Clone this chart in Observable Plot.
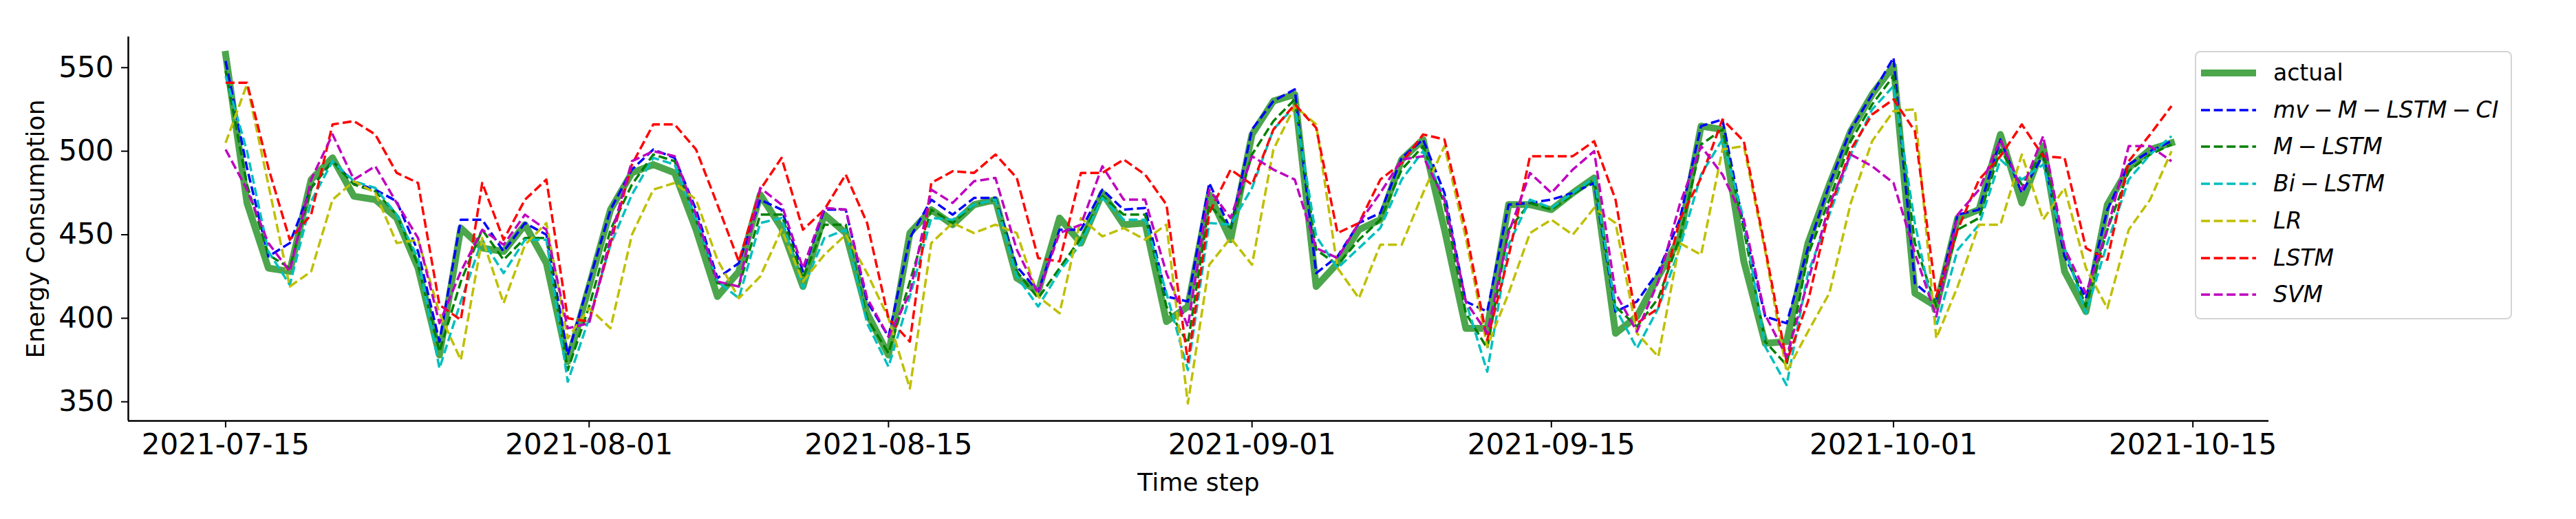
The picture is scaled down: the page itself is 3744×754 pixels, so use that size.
<!DOCTYPE html>
<html><head><meta charset="utf-8">
<script src="https://cdn.jsdelivr.net/npm/d3@7"></script>
<script src="https://cdn.jsdelivr.net/npm/@observablehq/plot@0.6"></script>
<style>
html,body{margin:0;padding:0;background:#fff;}
#wrap{position:relative;width:3744px;height:754px;font-family:"DejaVu Sans",sans-serif;overflow:hidden;}
#legend{position:absolute;left:3190px;top:74px;width:461px;height:390px;box-sizing:border-box;border:2px solid #d4d4d4;border-radius:8px;background:rgba(255,255,255,0.8);}
.row{position:absolute;left:0;width:100%;height:44px;}
.row svg{position:absolute;left:5px;top:0;}
.row span.t{position:absolute;left:112px;top:0;line-height:44px;font-size:33px;color:#000;white-space:nowrap;}
.op{margin:0 0.22em;font-style:normal;}
</style></head><body><div id="wrap"></div>
<script>
// ---- data ----
const startDate = "2021-07-15";
const xTickLabels = ["2021-07-15","2021-08-01","2021-08-15","2021-09-01","2021-09-15","2021-10-01","2021-10-15"];
const yTicks = [350, 400, 450, 500, 550];

const actual = [558,469,430,428,483,496,473,471,460,430,378,454,442,440,456,433,374,419,465,487,
492,487,453,413,428,474,454,419,462,451,403,378,451,465,456,468,471,424,416,460,
445,475,456,457,398,407,474,447,510,530,534,419,433,453,459,495,507,453,394,394,
468,468,465,475,484,391,401,425,448,515,513,434,385,386,445,480,512,534,551,415,
407,460,465,510,469,503,428,404,468,490,501,505];

const mvMLSTMCI = [554,490,437,445,478,494,481,477,470,440,386,459,459,440,457,450,378,422,465,489,
501,496,465,424,433,471,465,428,465,465,410,389,448,471,462,472,472,431,416,453,
453,477,465,466,413,410,481,453,513,530,537,427,437,457,463,496,507,475,410,404,
468,469,471,475,481,404,410,428,459,515,519,455,401,397,442,480,513,534,556,421,
410,462,465,507,475,498,437,412,465,492,500,506];

const mLSTM = [548,480,438,430,478,494,480,476,462,432,380,422,453,435,448,448,369,407,453,480,
498,494,459,421,419,462,462,424,456,456,400,379,422,465,457,468,471,428,412,430,
448,473,462,462,407,385,468,454,498,518,531,441,432,447,459,489,503,468,403,382,
453,469,465,474,483,407,395,412,448,504,513,453,386,372,438,471,506,528,545,445,
407,453,460,501,480,500,441,407,453,488,498,504];

const biLSTM = [545,500,440,420,470,494,482,478,462,436,370,410,447,427,447,447,362,400,444,474,
496,492,459,422,412,457,460,418,448,453,397,371,413,460,459,468,471,425,407,428,
445,472,459,459,415,369,457,456,478,513,527,449,430,442,454,483,500,472,410,368,
444,471,466,475,484,406,382,406,442,486,507,459,383,360,427,462,498,525,539,457,
395,441,456,495,483,492,442,403,445,483,498,509];

const lr = [505,540,480,419,428,471,482,475,445,447,403,375,448,409,444,457,388,406,394,450,
477,481,471,435,412,425,453,422,438,450,427,400,358,445,457,451,456,451,413,403,
460,449,454,447,456,349,432,448,432,501,527,516,430,412,444,444,475,503,448,383,
415,451,459,450,466,457,391,377,445,438,501,503,440,368,392,415,469,506,524,525,
388,419,456,456,498,459,478,430,406,453,471,500];

const lstm = [541,541,490,447,462,516,518,510,487,481,408,399,481,447,471,483,400,398,445,492,
516,516,501,468,434,477,496,453,465,486,457,400,386,481,488,487,498,484,436,434,
487,487,495,486,468,374,463,489,480,513,528,514,451,457,483,493,510,507,453,387,
437,497,497,497,506,471,397,406,459,484,519,506,442,374,410,465,501,522,531,512,
413,453,483,497,516,497,496,442,435,494,510,527];

const svm = [501,477,445,428,483,510,483,491,469,448,397,428,453,444,462,453,394,397,448,494,
500,497,462,422,419,478,468,430,466,465,412,389,415,477,469,482,484,441,415,451,
456,491,471,471,427,395,477,460,497,489,483,442,436,457,475,495,497,471,410,391,
451,487,475,489,500,415,392,422,468,503,486,459,402,377,422,468,498,491,481,439,
401,462,477,507,477,509,442,415,453,503,503,494];

const seriesNames = ["actual","mv − M − LSTM − CI","M − LSTM","Bi − LSTM","LR","LSTM","SVM"];
const seriesValues = [actual, mvMLSTMCI, mLSTM, biLSTM, lr, lstm, svm];
const seriesColors = ["#008000","#0000ff","#008000","#00bfbf","#bfbf00","#ff0000","#bf00bf"];

// ---- build ----
const t0 = d3.utcParse("%Y-%m-%d")(startDate);
const n = actual.length;
const dates = d3.range(n).map(i => d3.utcDay.offset(t0, i));
const rows = [];
seriesValues.forEach((vals, s) => vals.forEach((v, i) => rows.push({date: dates[i], value: v, s})));

const xPad = (dates[n-1] - dates[0]) * 0.05;
const xDomain = [new Date(+dates[0] - xPad), new Date(+dates[n-1] + xPad)];
const allV = seriesValues.flat();
const vMin = d3.min(allV), vMax = d3.max(allV), yPad = (vMax - vMin) * 0.05;
const yDomain = [vMin - yPad, vMax + yPad];
const tickDates = xTickLabels.map(d3.utcParse("%Y-%m-%d"));

const lineMarks = seriesValues.map((vals, s) => Plot.line(rows.filter(r => r.s === s), {
  x: "date", y: "value",
  stroke: seriesColors[s],
  strokeWidth: s === 0 ? 10 : 3.5,
  strokeOpacity: s === 0 ? 0.7 : 1,
  strokeDasharray: s === 0 ? null : "13,5.6",
  strokeLinejoin: "round",
  strokeLinecap: s === 0 ? "square" : "butt"
}));

const chart = Plot.plot({
  width: 3744, height: 754,
  marginLeft: 186, marginRight: 447, marginTop: 53, marginBottom: 143,
  style: {fontFamily: "DejaVu Sans", color: "#000", background: "#fff", overflow: "visible"},
  x: {type: "utc", domain: xDomain},
  y: {domain: yDomain},
  marks: [
    ...lineMarks,
    Plot.ruleY([yDomain[0]], {stroke: "#000", strokeWidth: 2.5}),
    Plot.ruleX([xDomain[0]], {stroke: "#000", strokeWidth: 2.5}),
    Plot.axisX({ticks: tickDates, tickFormat: d3.utcFormat("%Y-%m-%d"), tickSize: 10, tickPadding: 9, fontSize: 42, strokeWidth: 2, label: null}),
    Plot.axisY({ticks: yTicks, tickFormat: d => String(d), tickSize: 10, tickPadding: 11, fontSize: 42, strokeWidth: 2, label: null}),
    Plot.text(["Time step"], {text: d => d, frameAnchor: "bottom", textAnchor: "middle", lineAnchor: "middle", dy: 90, fontSize: 36, fill: "#000"}),
    Plot.text(["Energy Consumption"], {text: d => d, frameAnchor: "left", textAnchor: "middle", lineAnchor: "middle", dx: -134, rotate: -90, fontSize: 36, fill: "#000"})
  ]
});

const wrap = document.getElementById("wrap");
wrap.appendChild(chart);

// legend
const legend = document.createElement("div");
legend.id = "legend";
seriesNames.forEach((name, s) => {
  const row = document.createElement("div");
  row.className = "row";
  row.style.top = (32 - 22 + 53.7 * s - 2) + "px";
  const sw = s === 0 ? 10 : 3.5;
  const dash = s === 0 ? "" : 'stroke-dasharray="13,5.6"';
  const op = s === 0 ? 0.7 : 1;
  const label = name.split(" − ").join('<span class="op">−</span>');
  row.innerHTML = `<svg width="84" height="44"><line x1="2" x2="82" y1="22" y2="22" stroke="${seriesColors[s]}" stroke-opacity="${op}" stroke-width="${sw}" ${dash}/></svg><span class="t" style="font-style:${s === 0 ? "normal" : "italic"}">${label}</span>`;
  legend.appendChild(row);
});
wrap.appendChild(legend);
</script>
</body></html>
